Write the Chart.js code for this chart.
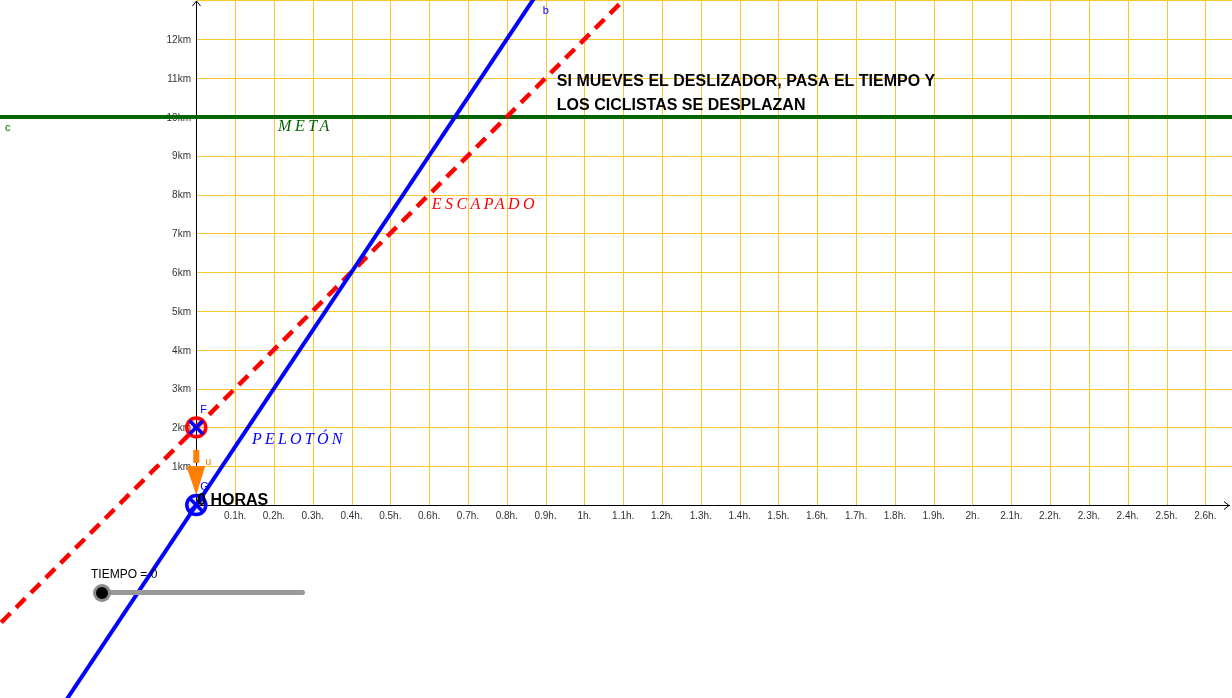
<!DOCTYPE html>
<html lang="es">
<head>
<meta charset="utf-8">
<title>Pelotón y escapado</title>
<script src="https://cdn.jsdelivr.net/npm/chart.js@4"></script>
<style>
  html, body { margin: 0; padding: 0; background: #fff; overflow: hidden; }
  #wrap { position: relative; width: 1232px; height: 698px; }
  canvas { display: block; }
  .slider-label {
    position: absolute; left: 91px; top: 567px;
    font: 12px "Liberation Sans", Arial, sans-serif; line-height: 14px; color: #000;
  }
  .track {
    position: absolute; left: 100px; top: 590px; width: 205px; height: 5px;
    background: #999; border-radius: 3px;
  }
  .knob {
    position: absolute; left: 93px; top: 584px; width: 18px; height: 18px;
    border-radius: 50%; background: #8c8c8c;
  }
  .knob::after {
    content: ""; position: absolute; left: 3px; top: 3px; width: 12px; height: 12px;
    border-radius: 50%; background: #000;
  }
</style>
</head>
<body>
<div id="wrap">
  <canvas id="chart" width="1232" height="698"></canvas>
  <div class="slider-label">TIEMPO = 0</div>
  <div class="track"></div>
  <div class="knob"></div>
</div>
<script>
// axis ticks (hours / km)
const xTicks = [0.1, 0.2, 0.3, 0.4, 0.5, 0.6, 0.7, 0.8, 0.9, 1, 1.1, 1.2, 1.3, 1.4, 1.5, 1.6, 1.7, 1.8, 1.9, 2, 2.1, 2.2, 2.3, 2.4, 2.5, 2.6];
const xTickLabels = ['0.1h.', '0.2h.', '0.3h.', '0.4h.', '0.5h.', '0.6h.', '0.7h.', '0.8h.', '0.9h.', '1h.', '1.1h.', '1.2h.', '1.3h.', '1.4h.', '1.5h.', '1.6h.', '1.7h.', '1.8h.', '1.9h.', '2h.', '2.1h.', '2.2h.', '2.3h.', '2.4h.', '2.5h.', '2.6h.'];
const yTicks = [1, 2, 3, 4, 5, 6, 7, 8, 9, 10, 11, 12];
const yTickLabels = ['1km', '2km', '3km', '4km', '5km', '6km', '7km', '8km', '9km', '10km', '11km', '12km'];
const yGrid = [1, 2, 3, 4, 5, 6, 7, 8, 9, 10, 11, 12, 13];

// lines: meta (c), escapado, pelotón (b)
const metaTimes = [-1, 3];
const metaKm = [10, 10];
const escapadoTimes = [-1, 2];
const escapadoKm = [-8, 22];
const pelotonTimes = [-1, 1];
const pelotonKm = [-15, 15];

// points F, G and vector u
const pointNames = ['F', 'G'];
const pointTimes = [0, 0];
const pointKm = [2, 0];
const vectorTimes = [0, 0];
const vectorKm = [1.42, 0.26];

const gridColor = '#fcc62f';
const green = 'rgb(0,100,0)';
const orange = '#ff8000';

const toXY = (xs, ys) => xs.map((v, i) => ({ x: v, y: ys[i] }));

function drawText(ctx, str, px, py, font, color, align, spacing) {
    ctx.font = font;
    ctx.fillStyle = color;
    ctx.textAlign = align || 'left';
    ctx.textBaseline = 'middle';
    ctx.letterSpacing = spacing || '0px';
    ctx.fillText(str, px, py);
    ctx.letterSpacing = '0px';
}

const geoPlugin = {
    id: 'geoPlugin',
    beforeDatasetsDraw(chart) {
        const { ctx, chartArea: a, scales: { x, y } } = chart;
        const x0 = Math.round(x.getPixelForValue(0)) + 0.5;
        const y0 = Math.round(y.getPixelForValue(0)) + 0.5;
        ctx.save();

        // grid, first quadrant only
        ctx.strokeStyle = gridColor;
        ctx.lineWidth = 1;
        ctx.beginPath();
        xTicks.forEach(v => {
            const px = Math.round(x.getPixelForValue(v)) + 0.5;
            ctx.moveTo(px, y0);
            ctx.lineTo(px, a.top);
        });
        yGrid.forEach(v => {
            const py = Math.round(y.getPixelForValue(v)) + 0.5;
            ctx.moveTo(x0, py);
            ctx.lineTo(a.right, py);
        });
        ctx.stroke();

        // axes with open arrows
        ctx.strokeStyle = '#000';
        ctx.beginPath();
        ctx.moveTo(x0, y0);
        ctx.lineTo(a.right - 2, y0);
        ctx.moveTo(a.right - 8, y0 - 4);
        ctx.lineTo(a.right - 3, y0);
        ctx.lineTo(a.right - 8, y0 + 4);
        ctx.moveTo(x0, y0);
        ctx.lineTo(x0, a.top + 1);
        ctx.moveTo(x0 - 4, a.top + 6);
        ctx.lineTo(x0, a.top + 1);
        ctx.lineTo(x0 + 4, a.top + 6);
        ctx.stroke();

        // tick labels
        xTicks.forEach((v, i) => {
            drawText(ctx, xTickLabels[i], x.getPixelForValue(v), y0 + 10.5, '10px "Liberation Sans", Arial, sans-serif', '#333', 'center');
        });
        yTicks.forEach((v, i) => {
            drawText(ctx, yTickLabels[i], x0 - 5.5, y.getPixelForValue(v) + 1, '10px "Liberation Sans", Arial, sans-serif', '#333', 'right');
        });

        // vector u
        const vx = x.getPixelForValue(vectorTimes[0]);
        const vTop = y.getPixelForValue(vectorKm[0]);
        const vTip = y.getPixelForValue(vectorKm[1]);
        const headBase = vTip - 29;
        ctx.fillStyle = orange;
        ctx.fillRect(vx - 3, vTop, 6, headBase - vTop - 3);
        ctx.beginPath();
        ctx.moveTo(vx - 10, headBase);
        ctx.lineTo(vx + 9, headBase);
        ctx.lineTo(vx, vTip);
        ctx.closePath();
        ctx.fill();

        ctx.restore();
    },
    afterDatasetsDraw(chart) {
        const { ctx, scales: { x, y } } = chart;
        const X = v => x.getPixelForValue(v);
        const Y = v => y.getPixelForValue(v);
        const serif = 'italic 16px "Liberation Serif", "DejaVu Serif", serif';
        ctx.save();
        drawText(ctx, 'META', X(0.2105), Y(9.74), serif, green, 'left', '3.6px');
        drawText(ctx, 'ESCAPADO', X(0.607), Y(7.73), serif, '#ff0000', 'left', '3.4px');
        drawText(ctx, 'PELOTÓN', X(0.1435), Y(1.67), serif, '#0000ff', 'left', '3.2px');

        const bold = 'bold 16px "Liberation Sans", Arial, sans-serif';
        drawText(ctx, 'SI MUEVES EL DESLIZADOR, PASA EL TIEMPO Y', X(0.929), Y(10.9), bold, '#000');
        drawText(ctx, 'LOS CICLISTAS SE DESPLAZAN', X(0.929), Y(10.28), bold, '#000');
        drawText(ctx, '0 HORAS', X(0.002), Y(0.105), bold, '#000');

        const small = '11px "Liberation Sans", Arial, sans-serif';
        drawText(ctx, 'b', X(0.893), Y(12.73), small, '#0000ff');
        drawText(ctx, 'c', X(-0.493), Y(9.71), small, green);
        drawText(ctx, pointNames[0], X(pointTimes[0]) + 4, Y(pointKm[0]) - 17, small, '#0000ff');
        drawText(ctx, pointNames[1], X(pointTimes[1]) + 4, Y(pointKm[1]) - 18, small, '#0000ff');
        drawText(ctx, 'u', X(vectorTimes[0]) + 9, Y(1.11), small, orange);
        ctx.restore();
    }
};

const ctx = document.getElementById('chart').getContext('2d');

new Chart(ctx, {
    type: 'scatter',
    data: {
        datasets: [
            {
                label: 'crosses',
                data: toXY(pointTimes, pointKm),
                pointStyle: 'crossRot',
                pointRadius: 9.5,
                pointBorderWidth: 3.5,
                pointBorderColor: '#0000ff',
                order: -1
            },
            {
                label: 'puntos',
                data: toXY(pointTimes, pointKm),
                pointStyle: 'circle',
                pointRadius: 9.5,
                pointBorderWidth: 3.5,
                pointBorderColor: ['#ff0000', '#0000ff'],
                pointBackgroundColor: ['rgba(255,0,0,0.12)', 'rgba(0,0,255,0.1)'],
                order: 0
            },
            {
                label: 'PELOTÓN',
                data: toXY(pelotonTimes, pelotonKm),
                showLine: true,
                borderColor: '#0000ff',
                borderWidth: 4,
                pointRadius: 0,
                order: 1
            },
            {
                label: 'ESCAPADO',
                data: toXY(escapadoTimes, escapadoKm),
                showLine: true,
                borderColor: '#ff0000',
                borderWidth: 4.5,
                borderDash: [13, 8],
                pointRadius: 0,
                order: 2
            },
            {
                label: 'META',
                data: toXY(metaTimes, metaKm),
                showLine: true,
                borderColor: green,
                borderWidth: 4,
                pointRadius: 0,
                order: 3
            }
        ]
    },
    options: {
        responsive: false,
        animation: false,
        devicePixelRatio: 1,
        layout: { padding: 0, autoPadding: false },
        plugins: {
            legend: { display: false },
            tooltip: { enabled: false }
        },
        scales: {
            x: { type: 'linear', min: -0.5058, max: 2.6687, display: false },
            y: { type: 'linear', min: -4.973, max: 13.012, display: false }
        }
    },
    plugins: [geoPlugin]
});
</script>
</body>
</html>
